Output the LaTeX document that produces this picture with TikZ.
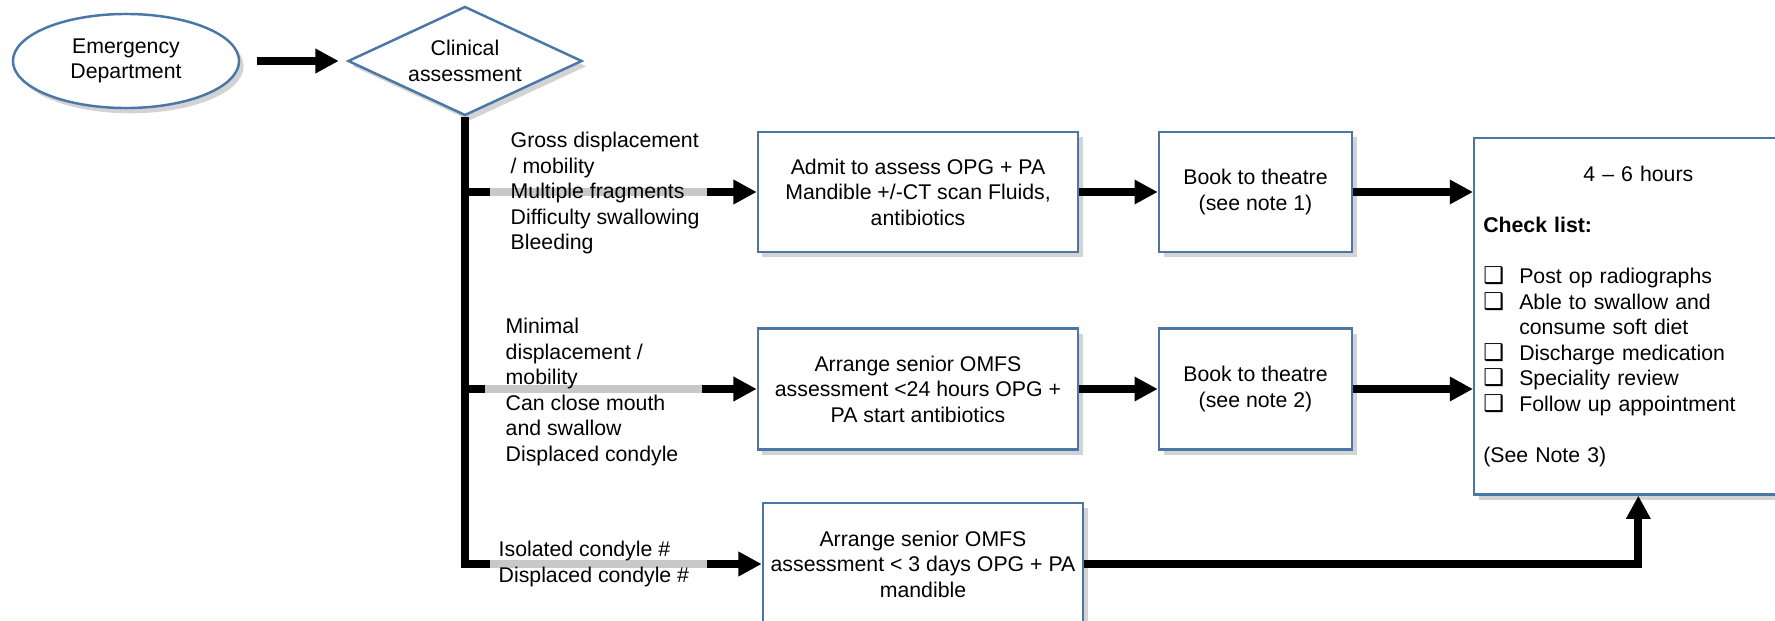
\documentclass[tikz,border=0pt]{standalone}
\usepackage{fontspec}
\setmainfont{Liberation Sans}
\newfontfamily\dingfont{DejaVu Sans}
\usepackage{tikz}
\usetikzlibrary{shapes,arrows.meta,shadows,positioning}

\definecolor{boxblue}{RGB}{74,118,168}
\definecolor{lanegray}{RGB}{200,200,200}

\newcommand{\tickbox}{\makebox[0.36cm][l]{\dingfont\fontsize{6.6}{7.25}\selectfont ❑}}

\tikzset{
  shade box/.style={draw=boxblue,line width=0.7pt,fill=white,
    drop shadow={shadow xshift=1.3pt,shadow yshift=-1.5pt,opacity=0.35}},
  stepbox/.style={shade box,rectangle,align=center,inner sep=0pt,minimum height=1.2cm},
  flow/.style={line width=2.2pt,draw=black},
  flowarrow/.style={flow,-{Triangle[length=6.6pt,width=6.6pt]}},
  lane/.style={line width=2.2pt,draw=lanegray},
  sign/.style={align=left,anchor=north west,inner sep=0pt}
}

\begin{document}
\begin{tikzpicture}[x=0.01cm,y=-0.01cm,font=\fontsize{6.05}{7.25}\selectfont]
      \useasboundingbox (0,0) rectangle (1775,621);

      \coordinate (ED) at (126,61);
      \coordinate (CA) at (465,61);
      \coordinate (A1) at (918,192);
      \coordinate (B1) at (1255.5,192);
      \coordinate (A2) at (918,389);
      \coordinate (B2) at (1255.5,389);
      \coordinate (A3) at (923,564);
      \coordinate (CL) at (1473,137);

      \node[shade box,ellipse,minimum width=2.26cm,minimum height=0.94cm,align=center,inner sep=0pt] (edep) at (ED) {Emergency\\Department};
      \node[shade box,diamond,shape aspect=2.15,minimum width=2.34cm,minimum height=1.09cm,align=center,inner sep=0pt] (clin) at (CA) {Clinical\\assessment};

      \node[stepbox,minimum width=3.2cm] (admit) at (A1) {Admit to assess OPG + PA\\Mandible +/-CT scan Fluids,\\antibiotics};
      \node[stepbox,minimum width=1.93cm] (book1) at (B1) {Book to theatre\\(see note 1)};
      \node[stepbox,minimum width=3.2cm,minimum height=1.21cm] (senior24) at (A2) {Arrange senior OMFS\\assessment <24 hours OPG +\\PA start antibiotics};
      \node[stepbox,minimum width=1.93cm,minimum height=1.21cm] (book2) at (B2) {Book to theatre\\(see note 2)};
      \node[stepbox,minimum width=3.2cm,minimum height=1.22cm] (senior3) at (A3) {Arrange senior OMFS\\assessment < 3 days OPG + PA\\mandible};

      \node[shade box,rectangle,anchor=north west,minimum height=3.56cm,text width=3.1cm,inner xsep=0.09cm,inner ysep=0pt,align=left] (chk) at (CL) {%
        \hfill 4 – 6 hours\hfill\mbox{}\\[7.25pt]
        \textbf{Check list:}\\[7.25pt]
        \tickbox Post op radiographs\\
        \tickbox Able to swallow and\\
        \hspace*{0.36cm}consume soft diet\\
        \tickbox Discharge medication\\
        \tickbox Speciality review\\
        \tickbox Follow up appointment\\[7.25pt]
        (See Note 3)};

      % trunk and branches
      \coordinate (J1) at (465,192);
      \coordinate (J2) at (465,389);
      \coordinate (L1) at (490,192);
      \coordinate (L2) at (485,389);
      \coordinate (L3) at (490,564);
      \coordinate (G1) at (707,192);
      \coordinate (G2) at (702,389);
      \coordinate (G3) at (707,564);

      \draw[flowarrow,shorten <=0.17cm,shorten >=0.08cm] (edep.east) -- (clin.west);
      \draw[flow,line join=miter] (clin.south) |- (L3);
      \draw[flow] (J1) -- (L1);
      \draw[flow] (J2) -- (L2);
      \draw[lane] (L1) -- (G1);
      \draw[lane] (L2) -- (G2);
      \draw[lane] (L3) -- (G3);
      \draw[flowarrow] (G1) -- (admit.west);
      \draw[flowarrow] (G2) -- (senior24.west);
      \draw[flowarrow] (G3) -- (senior3.west);

      \draw[flowarrow] (admit) -- (book1);
      \draw[flowarrow] (senior24) -- (book2);
      \draw[flowarrow] (book1.east) -- (book1.east -| chk.west);
      \draw[flowarrow] (book2.east) -- (book2.east -| chk.west);
      \draw[flowarrow] (senior3.east) -| (chk.south);

      \node[sign] (gross) at (510,131.5) {Gross displacement\\/ mobility\\Multiple fragments\\Difficulty swallowing\\Bleeding};
      \node[sign] (minimal) at (505,317.5) {Minimal\\displacement /\\mobility\\Can close mouth\\and swallow\\Displaced condyle};
      \node[sign] (isolated) at (498,540.5) {Isolated condyle \#\\Displaced condyle \#};

\end{tikzpicture}
\end{document}
